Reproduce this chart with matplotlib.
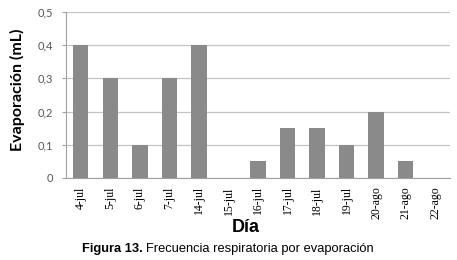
import matplotlib
matplotlib.use("Agg")
import matplotlib.pyplot as plt
import numpy as np

categories = ["4-jul", "5-jul", "6-jul", "7-jul", "14-jul", "15-jul", "16-jul",
              "17-jul", "18-jul", "19-jul", "20-ago", "21-ago", "22-ago"]
values = [0.4, 0.3, 0.1, 0.3, 0.4, 0.0, 0.05, 0.15, 0.15, 0.1, 0.2, 0.05, 0.0]
yticks = [0, 0.1, 0.2, 0.3, 0.4, 0.5]
ytick_labels = ["0", "0,1", "0,2", "0,3", "0,4", "0,5"]

fig = plt.figure(figsize=(4.57, 2.60), dpi=100)
ax = fig.add_axes([66/457, 1-178/260, (450-66)/457, (178-12)/260])

x = np.arange(len(categories))
ax.bar(x, values, width=0.52, color="#8a8a8a", zorder=3)
ax.set_xlim(-0.5, len(categories)-0.5)
ax.set_ylim(0, 0.5)
ax.set_yticks(yticks)
ax.set_yticklabels(ytick_labels, fontsize=8, color="#555555", family="Lato")
ax.yaxis.grid(True, color="#c4c4c4", linewidth=0.9, zorder=0)
ax.set_axisbelow(True)
ax.tick_params(axis="y", length=3, color="#a0a0a0", pad=6)
ax.tick_params(axis="x", length=0, pad=6)
ax.set_xticks(x)
ax.set_xticklabels(categories, rotation=90, fontsize=8.5, family="Liberation Serif")
for s in ["top", "right"]:
    ax.spines[s].set_visible(False)
ax.spines["left"].set_color("#a0a0a0")
ax.spines["bottom"].set_color("#a0a0a0")

fig.text(17/457, 1-90/260, "Evaporación (mL)", rotation=90, ha="center", va="center",
         fontsize=11.5, fontweight="bold", family="Lato")
fig.text(246/457, 1-227/260, "Día", ha="center", va="center", fontsize=13,
         fontweight="bold", family="Liberation Sans")
t1 = fig.text(82/457, 1-249/260, "Figura 13.", ha="left", va="center", fontsize=9.3,
              fontweight="bold", family="Liberation Sans")
fig.canvas.draw()
bb = t1.get_window_extent()
fig.text((bb.x1 + 3)/457, 1-249/260, "Frecuencia respiratoria por evaporación", ha="left",
         va="center", fontsize=9.3, family="Liberation Sans")

fig.savefig("out.png", dpi=100)
